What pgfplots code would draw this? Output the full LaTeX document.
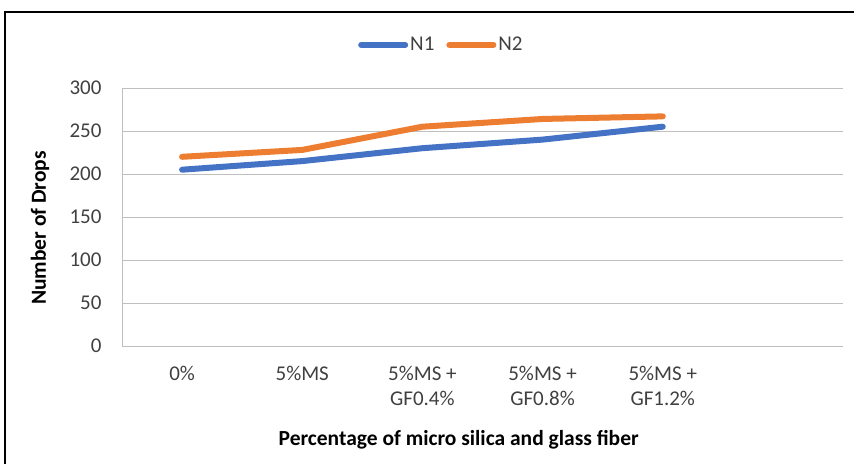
\documentclass[border=0pt]{standalone}
\usepackage{pgfplots}
\pgfplotsset{compat=1.18}
\usepackage{fontspec}
\setmainfont{Carlito}
\definecolor{cblue}{HTML}{4472C4}
\definecolor{corange}{HTML}{ED7D31}
\definecolor{tgray}{HTML}{404040}
\definecolor{ggray}{HTML}{BFBFBF}
\begin{document}
\begin{tikzpicture}
\begin{axis}[
  name=ax, at={(0,0)}, anchor=south west,
  scale only axis, width=721bp, height=258bp,
  xmin=0, xmax=6, ymin=0, ymax=300,
  xtick={0.5,1.5,2.5,3.5,4.5},
  xticklabels={0\%, 5\%MS, {5\%MS +\\GF0.4\%}, {5\%MS +\\GF0.8\%}, {5\%MS +\\GF1.2\%}},
  ytick={0,50,...,300},
  axis x line*=bottom, axis y line*=left,
  axis line style={ggray, line width=0.8bp, -},
  major tick length=0pt,
  ymajorgrids, grid style={ggray, line width=0.8bp},
  /pgf/number format/assume math mode=true,
  tick label style={font=\fontsize{21bp}{25bp}\selectfont, text=tgray},
  xticklabel style={align=center, anchor=north, yshift=-17bp},
  yticklabel style={xshift=-17bp},
  xlabel={\bfseries Percentage of micro silica and glass fiber},
  ylabel={\bfseries Number of Drops},
  label style={font=\fontsize{21.5bp}{25bp}\selectfont, text=black},
  xlabel style={at={(axis description cs:0.467,-0.364)}, anchor=center},
  ylabel style={at={(axis description cs:-0.1137,0.457)}, anchor=center},
  legend style={at={(axis description cs:0.443,1.167)}, anchor=center, draw=none, fill=none,
    legend columns=2, font=\fontsize{21bp}{25bp}\selectfont, text=tgray,
    nodes={inner sep=2bp},
    /tikz/every even column/.append style={column sep=10bp}},
  legend image code/.code={\draw[#1, line cap=round] (0bp,0bp) -- (44bp,0bp);},
  clip=false,
]
\addplot[cblue, line width=6bp, line cap=round, line join=round] coordinates {
  (0.5,205) (1.5,215) (2.5,230) (3.5,240) (4.5,255)};
\addlegendentry{N1}
\addplot[corange, line width=6bp, line cap=round, line join=round] coordinates {
  (0.5,220) (1.5,228) (2.5,255) (3.5,264) (4.5,267)};
\addlegendentry{N2}
\end{axis}
\pgfresetboundingbox
\useasboundingbox ([xshift=-122bp,yshift=-118bp]ax.south west) rectangle ([xshift=732bp,yshift=346bp]ax.south west);
\draw[line width=2bp] ([xshift=-117bp,yshift=-118bp]ax.south west) -- ([xshift=-117bp,yshift=334bp]ax.south west) -- ([xshift=732bp,yshift=334bp]ax.south west);
\end{tikzpicture}
\end{document}
